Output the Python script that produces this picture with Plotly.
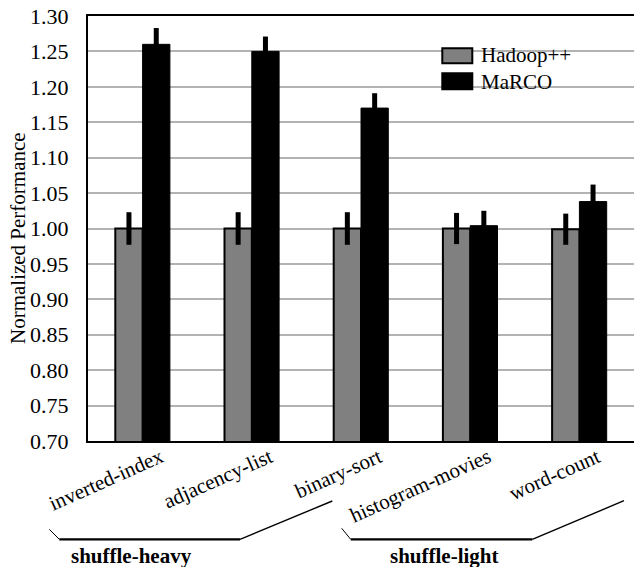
import plotly.graph_objects as go

# Benchmark data: normalized performance, Hadoop++ as baseline
categories = ["inverted-index", "adjacency-list", "binary-sort", "histogram-movies", "word-count"]
hadoop = [1.0, 1.0, 1.0, 1.0, 0.999]
hadoop_err = [0.023, 0.023, 0.023, 0.022, 0.022]
marco = [1.26, 1.25, 1.17, 1.004, 1.038]
marco_err = [0.023, 0.021, 0.021, 0.021, 0.024]

y_ticks = [0.70, 0.75, 0.80, 0.85, 0.90, 0.95, 1.00, 1.05, 1.10, 1.15, 1.20, 1.25, 1.30]

W, H = 634, 567
ML, MR, MT, MB = 88, 0, 16, 126
PW, PH = W - ML - MR, H - MT - MB

FONT = "Liberation Serif"


def px(x):
    return (x - ML) / PW


def py(y):
    return (H - MB - y) / PH


fig = go.Figure()
fig.add_trace(go.Bar(
    x=categories, y=hadoop, name="Hadoop++",
    marker=dict(color="#808080", line=dict(color="black", width=2)),
    error_y=dict(type="data", array=hadoop_err, color="black", thickness=5, width=0),
    showlegend=False,
))
fig.add_trace(go.Bar(
    x=categories, y=marco, name="MaRCO",
    marker=dict(color="black", line=dict(color="black", width=1)),
    error_y=dict(type="data", array=marco_err, color="black", thickness=5, width=0),
    showlegend=False,
))

shapes = []
annotations = []

# legend boxes and labels
legend_items = [("Hadoop++", "#808080", 48.3, 63.3, 55.5), ("MaRCO", "black", 73.3, 89.3, 81.5)]
for label, color, y0, y1, yc in legend_items:
    shapes.append(dict(type="rect", xref="paper", yref="paper",
                       x0=px(442.3), x1=px(472.3), y0=py(y1), y1=py(y0),
                       fillcolor=color, line=dict(color="black", width=2)))
    annotations.append(dict(text=label, xref="paper", yref="paper",
                            x=px(479), y=py(yc), xanchor="left", yanchor="middle",
                            showarrow=False, font=dict(family=FONT, size=21, color="black")))

# y-axis title
annotations.append(dict(text="Normalized Performance", xref="paper", yref="paper",
                        x=px(18), y=py(238), xanchor="center", yanchor="middle",
                        textangle=-90, showarrow=False,
                        font=dict(family=FONT, size=21, color="black")))

# group brackets under the category labels
brackets = [
    ([(49.3, 529.3), (59.3, 539.3)], 1),
    ([(59.3, 539.3), (240, 539.3)], 2.2),
    ([(240, 539.3), (332.3, 501)], 1.4),
    ([(341.7, 528.3), (350.7, 539.3)], 1),
    ([(350.7, 539.3), (532.3, 539.3)], 2.2),
    ([(532.3, 539.3), (624, 500.7)], 1.4),
]
for (p0, p1), w in brackets:
    shapes.append(dict(type="line", xref="paper", yref="paper",
                       x0=px(p0[0]), y0=py(p0[1]), x1=px(p1[0]), y1=py(p1[1]),
                       line=dict(color="black", width=w)))

for text, xc in [("shuffle-heavy", 131.7), ("shuffle-light", 444.5)]:
    annotations.append(dict(text="<b>%s</b>" % text, xref="paper", yref="paper",
                            x=px(xc), y=py(556), xanchor="center", yanchor="middle",
                            showarrow=False, font=dict(family=FONT, size=21, color="black")))

fig.update_layout(
    width=W, height=H,
    margin=dict(l=ML, r=MR, t=MT, b=MB, pad=0),
    paper_bgcolor="white", plot_bgcolor="white",
    barmode="group", bargap=0.5, bargroupgap=0,
    font=dict(family=FONT, size=21, color="black"),
    shapes=shapes, annotations=annotations,
    showlegend=False,
)
fig.update_xaxes(
    type="category", range=[-0.5, 4.5],
    showline=True, linecolor="black", linewidth=2, mirror=True,
    showgrid=False, ticks="", tickangle=-24,
    ticklabelshift=18, ticklabelstandoff=-6,
    tickfont=dict(family=FONT, size=21, color="black"),
)
fig.update_yaxes(
    range=[0.70, 1.30], tickvals=y_ticks, tickformat=".2f",
    showline=True, linecolor="black", linewidth=2,
    showgrid=True, gridcolor="#b3b3b3", gridwidth=2,
    ticks="", ticklabelstandoff=13,
    tickfont=dict(family=FONT, size=22, color="black"),
    zeroline=False,
)

fig.write_html("out.html")
